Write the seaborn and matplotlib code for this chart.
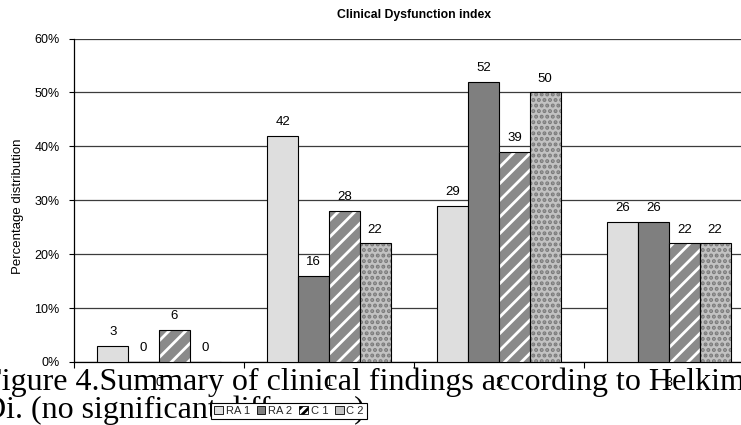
import matplotlib
matplotlib.use("Agg")
import matplotlib.pyplot as plt
import seaborn as sns
import pandas as pd
from matplotlib.patches import Rectangle
from matplotlib.ticker import FixedLocator, FuncFormatter

# ---- data ----
categories = ["0", "1", "2", "3"]
series = ["RA 1", "RA 2", "C 1", "C 2"]
ra1 = [3, 42, 29, 26]
ra2 = [0, 16, 52, 26]
c1 = [6, 28, 39, 22]
c2 = [0, 22, 50, 22]
yticks = [0, 10, 20, 30, 40, 50, 60]
title = "Clinical Dysfunction index"
ylabel = "Percentage distribution"
caption1 = "Figure 4.Summary of clinical findings according to Helkimo"
caption2 = "Di. (no significant difference)"

sns.set_theme(style="white")
plt.rcParams['font.family'] = ['Liberation Sans', 'DejaVu Sans']
plt.rcParams['hatch.linewidth'] = 2.0

rows = []
for s, vals in zip(series, [ra1, ra2, c1, c2]):
    for c, v in zip(categories, vals):
        rows.append({"category": c, "series": s, "value": v})
df = pd.DataFrame(rows)

W, H = 741, 425
fig = plt.figure(figsize=(W / 100, H / 100), dpi=100)
ax = fig.add_axes([74 / W, 63 / H, 680 / W, 323.5 / H])

face = {"RA 1": "#dedede", "RA 2": "#7f7f7f", "C 1": "#8a8a8a", "C 2": "#c2c2c2"}
sns.barplot(data=df, x="category", y="value", hue="series", hue_order=series,
            order=categories, palette=face, width=0.724, edgecolor="black",
            linewidth=0.8, ax=ax, legend=False, zorder=3, saturation=1)

hatch_spec = {2: ("//", "white"), 3: ("...", "#7a7a7a")}
for i, cont in enumerate(ax.containers):
    if i in hatch_spec:
        hatch, hc = hatch_spec[i]
        for p in cont.patches:
            p.set_hatch(hatch)
            p.set_edgecolor(hc)
            p.set_linewidth(0)
            ax.add_patch(Rectangle((p.get_x(), p.get_y()), p.get_width(), p.get_height(),
                                   fill=False, edgecolor="black", linewidth=0.8, zorder=4))
    ax.bar_label(cont, labels=[f"{v:g}" for v in cont.datavalues], padding=5.5,
                 fontsize=9.5, color="black")

ax.set_ylim(0, 60)
ax.set_xlim(-0.5, len(categories) - 0.5)
ax.yaxis.set_major_locator(FixedLocator(yticks))
ax.yaxis.set_major_formatter(FuncFormatter(lambda v, _: f"{v:.0f}%"))
ax.yaxis.grid(True, color="#3c3c3c", linewidth=0.9)
ax.set_axisbelow(True)
ax.xaxis.set_minor_locator(FixedLocator([i - 0.5 for i in range(len(categories) + 1)]))
ax.tick_params(axis="y", left=True, length=3.3, width=0.8, color="black",
               pad=7, labelsize=9, labelcolor="black")
ax.tick_params(axis="x", which="major", bottom=True, length=0, pad=11,
               labelsize=9, labelcolor="black")
ax.tick_params(axis="x", which="minor", bottom=True, length=4, width=0.8, color="black")
for side in ["top", "right"]:
    ax.spines[side].set_visible(False)
for side in ["left", "bottom"]:
    ax.spines[side].set_color("black")
    ax.spines[side].set_linewidth(0.9)
ax.set_xlabel("")
ax.set_ylabel(ylabel, fontsize=9.5, color="black")
ax.yaxis.set_label_coords(-0.073, 0.48)
ax.set_title(title, fontsize=8.8, fontweight="bold", pad=14.5, color="black")

# legend with proxy patches
handles = [
    Rectangle((0, 0), 1, 1, facecolor=face["RA 1"], edgecolor="black", linewidth=0.6),
    Rectangle((0, 0), 1, 1, facecolor=face["RA 2"], edgecolor="black", linewidth=0.6),
    Rectangle((0, 0), 1, 1, facecolor="white", edgecolor="black", linewidth=0.6, hatch="////"),
    Rectangle((0, 0), 1, 1, facecolor=face["C 2"], edgecolor="black", linewidth=0.6),
]

# caption (overlapping like the source)
fig.text(-16 / W, 35 / H, caption1, fontsize=23, family=["Liberation Serif", "DejaVu Serif"],
         va="baseline", ha="left", color="black")
fig.text(-17 / W, 7 / H, caption2, fontsize=23, family=["Liberation Serif", "DejaVu Serif"],
         va="baseline", ha="left", color="black")

leg = fig.legend(handles, series, ncol=4, loc="center", bbox_to_anchor=(289 / W, 1 - 411 / H),
                 fontsize=8, frameon=True, fancybox=False, framealpha=1, edgecolor="black",
                 handlelength=0.8, handleheight=0.8, handletextpad=0.25, columnspacing=0.6,
                 borderpad=0.25, borderaxespad=0)
leg.get_frame().set_linewidth(0.8)
leg.set_zorder(10)

fig.savefig("out.png", dpi=100)
